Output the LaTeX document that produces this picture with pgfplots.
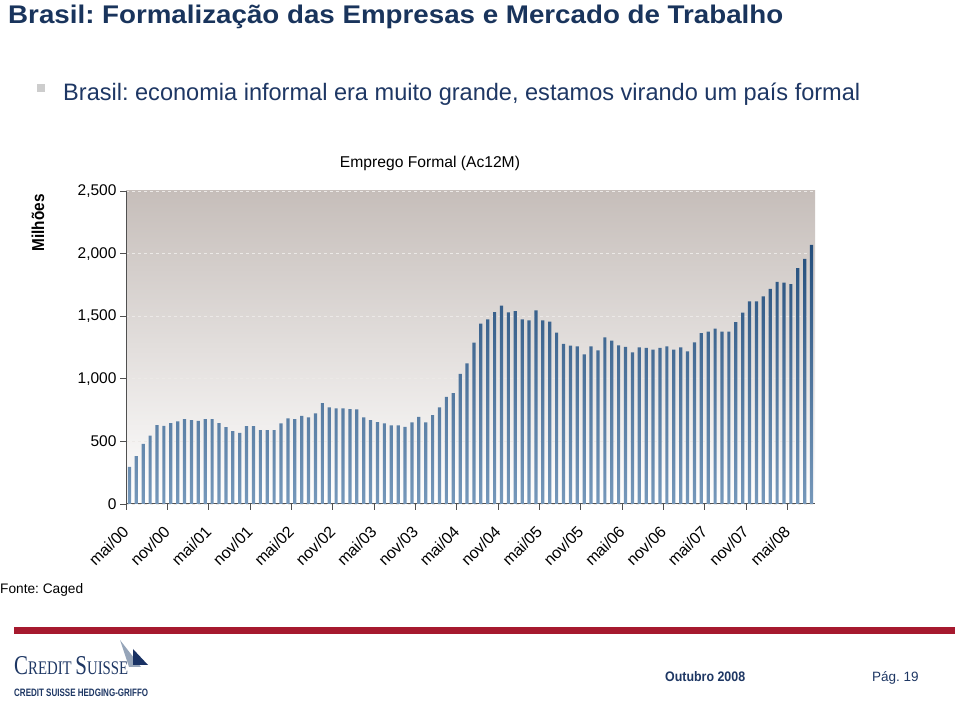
\documentclass[border=0pt]{standalone}
\usepackage{graphicx}
\usepackage{pgfplots}
\pgfplotsset{compat=1.18}
\usepackage{fontspec}
\setmainfont{Liberation Sans}
\newfontfamily\csserif{Liberation Serif}
\frenchspacing
\definecolor{titlenavy}{RGB}{25,52,92}
\definecolor{textnavy}{RGB}{30,55,100}
\definecolor{bulletgray}{RGB}{205,205,205}
\definecolor{bgtop}{RGB}{198,190,186}
\definecolor{bartop}{RGB}{36,78,124}
\definecolor{barbot}{RGB}{118,152,186}
\definecolor{axisc}{RGB}{80,80,80}
\definecolor{gridc}{RGB}{236,233,231}
\definecolor{csred}{RGB}{166,25,46}
\definecolor{sailgray}{RGB}{150,165,185}
\definecolor{sailnavy}{RGB}{25,50,100}

\pgfplotstableread{
idx val
1 297
2 383
3 481
4 547
5 630
6 624
7 646
8 659
9 677
10 669
11 664
12 677
13 677
14 646
15 614
16 582
17 568
18 622
19 622
20 590
21 590
22 590
23 643
24 683
25 677
26 704
27 691
28 723
29 805
30 771
31 763
32 763
33 757
34 755
35 691
36 670
37 654
38 643
39 627
40 627
41 616
42 651
43 696
44 651
45 709
46 771
47 855
48 885
49 1039
50 1124
51 1289
52 1440
53 1474
54 1533
55 1584
56 1530
57 1541
58 1474
59 1466
60 1546
61 1466
62 1456
63 1368
64 1278
65 1265
66 1259
67 1196
68 1259
69 1227
70 1331
71 1305
72 1267
73 1254
74 1211
75 1251
76 1246
77 1233
78 1246
79 1259
80 1233
81 1251
82 1219
83 1291
84 1365
85 1376
86 1400
87 1376
88 1376
89 1453
90 1528
91 1618
92 1618
93 1658
94 1719
95 1775
96 1769
97 1756
98 1883
99 1958
100 2070
}\emprego

\begin{document}
\begin{tikzpicture}[x=1pt,y=1pt]
\fill[white] (0,0) rectangle (959,711);
\useasboundingbox (0,0) rectangle (959,711);

% slide title
\node[anchor=base west, inner sep=0, text=titlenavy] at (8,687)
  {\resizebox{775pt}{18.5pt}{\bfseries Brasil: Formalização das Empresas e Mercado de Trabalho}};
% bullet
\fill[bulletgray] (37,619) rectangle (45,627);
\node[anchor=base west, inner sep=0, text=textnavy] at (63,610)
  {\resizebox{797pt}{17.5pt}{Brasil: economia informal era muito grande, estamos virando um país formal}};

% chart title and y label
\node[anchor=base, inner sep=0] at (430,543) {\resizebox{180pt}{!}{Emprego Formal (Ac12M)}};
\node[rotate=90, inner sep=0] at (38,488) {\resizebox{57pt}{12.5pt}{\bfseries Milhões}};

\begin{axis}[
  at={(126pt,207pt)}, anchor=south west,
  scale only axis, width=689pt, height=313pt,
  xmin=0.5, xmax=100.5, ymin=0, ymax=2500,
  ybar, bar width=3.2pt,
  axis x line*=bottom, axis y line*=left,
  xtick={0.5,6.5,...,96.5},
  xticklabels={mai/00,nov/00,mai/01,nov/01,mai/02,nov/02,mai/03,nov/03,mai/04,nov/04,mai/05,nov/05,mai/06,nov/06,mai/07,nov/07,mai/08},
  xticklabel style={rotate=45, anchor=east, font=\fontsize{16}{17}\selectfont, yshift=-13pt, xshift=-10pt},
  ytick={0,500,...,2500},
  yticklabel style={font=\fontsize{15.5}{16}\selectfont},
  /pgf/number format/.cd, 1000 sep={,}, assume math mode=true,
  /pgfplots/.cd,
  tick align=outside, major tick length=6pt,
  ymajorgrids, grid style={dashed, draw=gridc, line width=0.8pt},
  axis line style={draw=axisc, line width=1pt},
  tick style={draw=axisc, line width=0.8pt},
  axis background/.style={top color=bgtop, bottom color=white},
]
\addplot[draw=none, top color=bartop, bottom color=barbot, bar shift=0pt] table[x=idx, y=val] {\emprego};
\end{axis}

% footer
\node[anchor=base west, inner sep=0] at (0,117) {\resizebox{83pt}{10pt}{Fonte: Caged}};
\fill[csred] (14,77) rectangle (955,84);
% logo
\fill[sailgray] (120,71) -- (141,44) -- (129,44) -- cycle;
\fill[sailnavy] (133,62) -- (148,46) -- (133,46) -- cycle;
\node[anchor=base west, inner sep=0, text=textnavy] at (14,36)
  {\resizebox{114pt}{18pt}{\csserif {\fontsize{24}{24}\selectfont C}{\fontsize{17}{17}\selectfont REDIT }{\fontsize{24}{24}\selectfont S}{\fontsize{17}{17}\selectfont UISSE}}};
\node[anchor=base west, inner sep=0, text=textnavy] at (14,14)
  {\resizebox{134pt}{7.5pt}{\bfseries CREDIT SUISSE HEDGING-GRIFFO}};
\node[anchor=base west, inner sep=0, text=textnavy] at (665,29)
  {\resizebox{80pt}{10pt}{\bfseries Outubro 2008}};
\node[anchor=base west, inner sep=0, text=textnavy] at (872,29)
  {\fontsize{13.5}{14}\selectfont Pág. 19};
\end{tikzpicture}
\end{document}
